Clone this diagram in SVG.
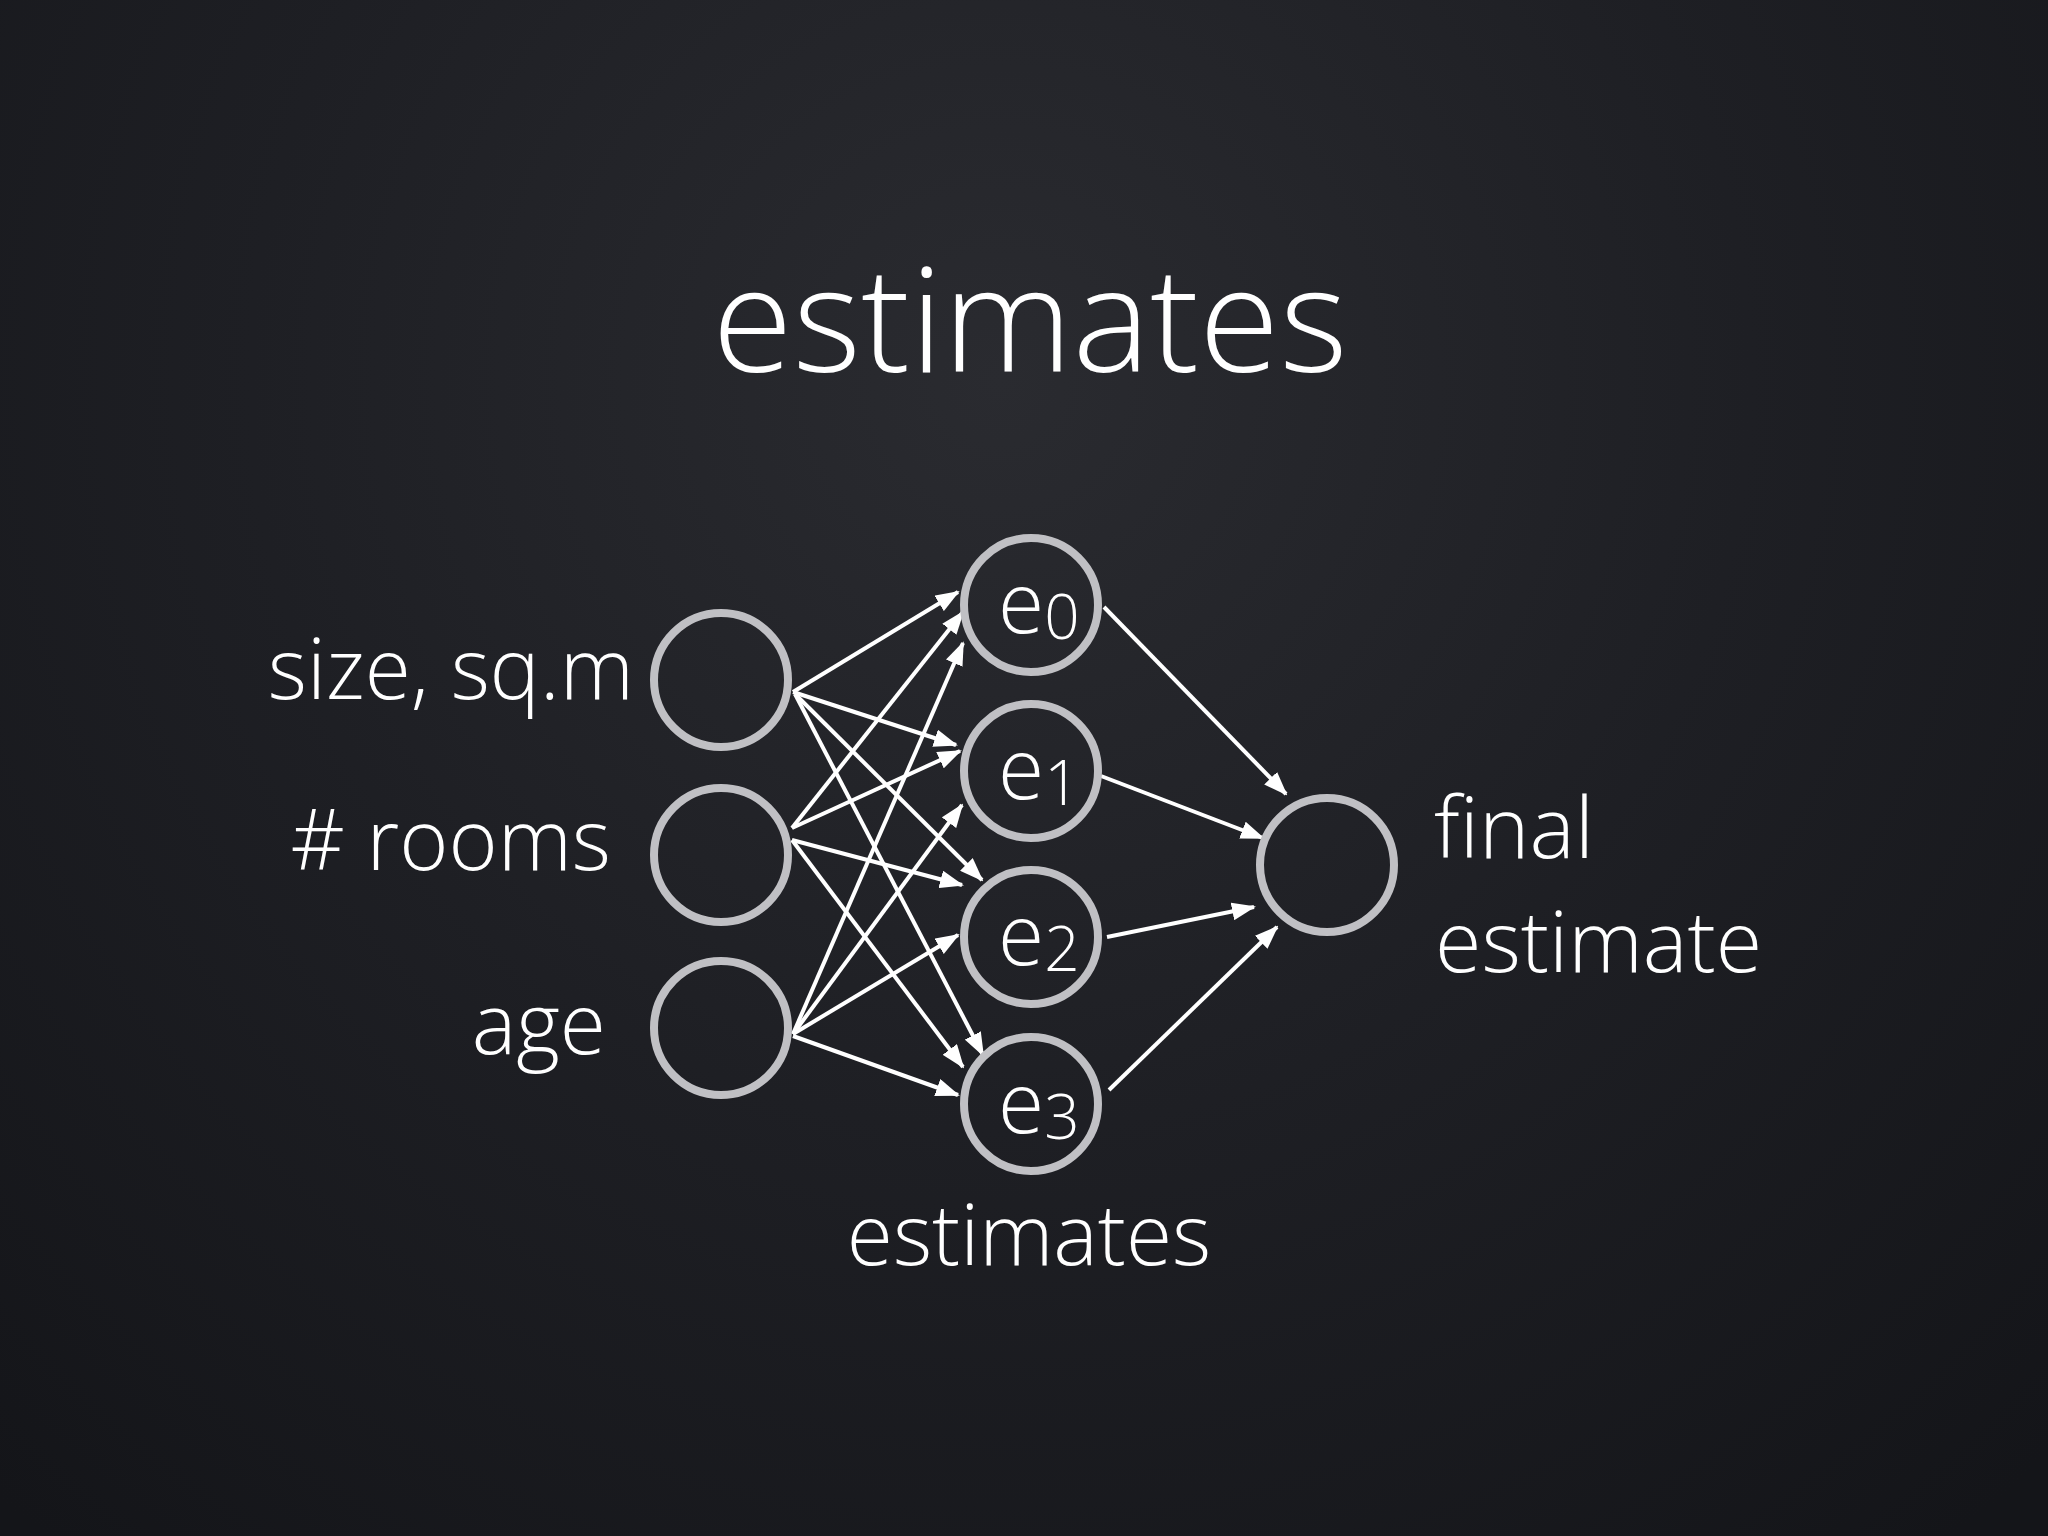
<svg xmlns="http://www.w3.org/2000/svg" width="2048" height="1536" viewBox="0 0 2048 1536">
  <defs>
    <radialGradient id="bg" cx="1000" cy="380" r="1500" gradientUnits="userSpaceOnUse">
      <stop offset="0" stop-color="#2a2b30"/>
      <stop offset="0.5" stop-color="#1e1f24"/>
      <stop offset="1" stop-color="#141519"/>
    </radialGradient>
    <marker id="arrow" markerUnits="userSpaceOnUse" markerWidth="24" markerHeight="18" refX="22" refY="9" orient="auto">
      <path d="M0,0 L24,9 L0,18 z" fill="#ffffff"/>
    </marker>
    <style>
      .node { fill: none; stroke: #c0c0c4; stroke-width: 8; }
      .lbl { font-family: "Open Sans", "Liberation Sans", sans-serif; font-weight: 300; fill: #ffffff; }
      .edge { stroke: #ffffff; stroke-width: 4; fill: none; marker-end: url(#arrow); }
      .sub { font-size: 62px; }
    </style>
  </defs>
  <rect x="0" y="0" width="2048" height="1536" fill="url(#bg)"/>

  <text id="title" class="lbl" x="1030" y="372" font-size="146.5" text-anchor="middle">estimates</text>

  <g id="connectors">
    <path class="edge" d="M793,692 L958,592"/>
    <path class="edge" d="M793,692 L956,745"/>
    <path class="edge" d="M795,694 L982,880"/>
    <path class="edge" d="M795,694 L983,1055"/>
    <path class="edge" d="M792,828 L963,612"/>
    <path class="edge" d="M792,828 L960,751"/>
    <path class="edge" d="M792,840 L962,885"/>
    <path class="edge" d="M792,840 L963,1067"/>
    <path class="edge" d="M793,1034 L963,643"/>
    <path class="edge" d="M793,1034 L962,805"/>
    <path class="edge" d="M793,1034 L958,935"/>
    <path class="edge" d="M793,1036 L958,1095"/>
    <path class="edge" d="M1104,607 L1286,794"/>
    <path class="edge" d="M1101,776 L1263,838"/>
    <path class="edge" d="M1107,937 L1254,907"/>
    <path class="edge" d="M1109,1090 L1277,927"/>
  </g>

  <g id="in-size">
    <circle class="node" cx="721" cy="680" r="67"/>
    <text class="lbl" x="634" y="699" font-size="84" text-anchor="end">size, sq.m</text>
  </g>
  <g id="in-rooms">
    <circle class="node" cx="721" cy="855" r="67"/>
    <text class="lbl" x="611" y="870" font-size="84" text-anchor="end"># rooms</text>
  </g>
  <g id="in-age">
    <circle class="node" cx="721" cy="1028" r="67"/>
    <text class="lbl" x="606" y="1054" font-size="84" text-anchor="end">age</text>
  </g>

  <g id="e0">
    <circle class="node" cx="1031" cy="605" r="67"/>
    <text class="lbl" x="998" y="633" font-size="84">e<tspan class="sub" dy="6">0</tspan></text>
  </g>
  <g id="e1">
    <circle class="node" cx="1031" cy="771" r="67"/>
    <text class="lbl" x="998" y="799" font-size="84">e<tspan class="sub" dy="6">1</tspan></text>
  </g>
  <g id="e2">
    <circle class="node" cx="1031" cy="937" r="67"/>
    <text class="lbl" x="998" y="965" font-size="84">e<tspan class="sub" dy="6">2</tspan></text>
  </g>
  <g id="e3">
    <circle class="node" cx="1031" cy="1104" r="67"/>
    <text class="lbl" x="998" y="1133" font-size="84">e<tspan class="sub" dy="6">3</tspan></text>
  </g>

  <g id="final">
    <circle class="node" cx="1327" cy="865" r="67"/>
    <text class="lbl" x="1434" y="858" font-size="85.5">final</text>
    <text class="lbl" x="1435" y="972" font-size="84.5">estimate</text>
  </g>

  <text id="estimates-label" class="lbl" x="1029" y="1265" font-size="84" text-anchor="middle">estimates</text>
</svg>
